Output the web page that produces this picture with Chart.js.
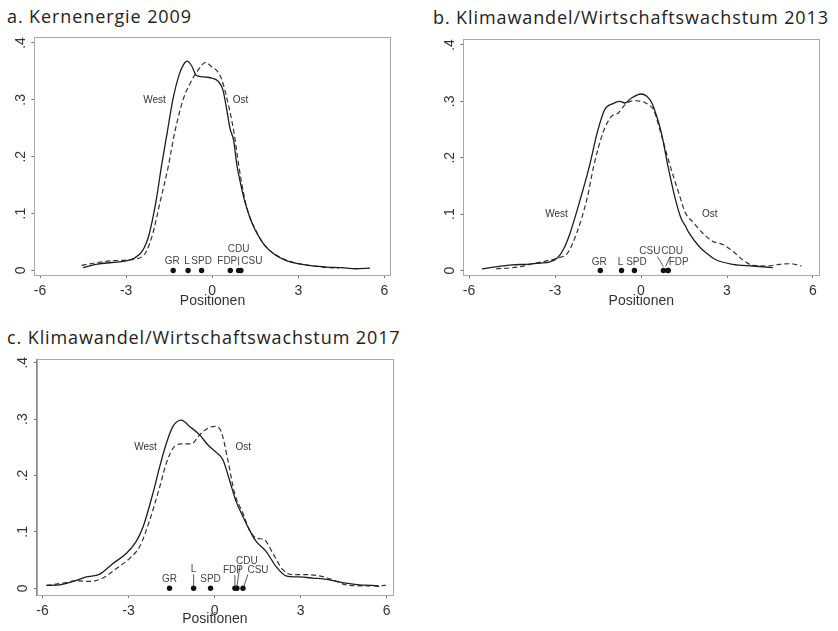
<!DOCTYPE html>
<html>
<head>
<meta charset="utf-8">
<script src="https://cdn.jsdelivr.net/npm/chart.js@4.4.0/dist/chart.umd.min.js"></script>
<style>
  body { margin: 0; background: #fff; width: 838px; height: 631px; position: relative; overflow: hidden; }
  .title { position: absolute; font-family: "Open Sans", sans-serif; font-size: 18px; line-height: 20px; letter-spacing: 0.9px; color: #222; white-space: nowrap; }
  canvas { position: absolute; }
</style>
</head>
<body>
<div class="title" style="left:7px; top:6px;">a. Kernenergie 2009</div>
<div class="title" style="left:433px; top:7px;">b. Klimawandel/Wirtschaftswachstum 2013</div>
<div class="title" style="left:7px; top:327px;">c. Klimawandel/Wirtschaftswachstum 2017</div>

<canvas id="chartA" width="400" height="280" style="left:0; top:30px;"></canvas>
<canvas id="chartB" width="400" height="280" style="left:430px; top:30px;"></canvas>
<canvas id="chartC" width="400" height="278" style="left:0; top:350px;"></canvas>

<script>
// axis ticks
const xTicks = [-6, -3, 0, 3, 6];
const yTicks = [0, 0.1, 0.2, 0.3, 0.4];

// a. Kernenergie 2009
const aWestX = [-4.5, -4.0, -3.5, -3.0, -2.7, -2.45, -2.3, -2.19, -1.95, -1.77, -1.57, -1.37, -1.16, -1.0, -0.87, -0.72, -0.55, -0.4, -0.2, 0.0, 0.2, 0.37, 0.5, 0.62, 0.75, 0.86, 1.0, 1.12, 1.3, 1.5, 1.8, 2.2, 2.6, 3.0, 3.5, 4.0, 4.5, 5.0, 5.5];
const aWestY = [0.005, 0.011, 0.014, 0.017, 0.022, 0.033, 0.048, 0.065, 0.124, 0.183, 0.242, 0.301, 0.343, 0.362, 0.368, 0.360, 0.343, 0.341, 0.340, 0.338, 0.333, 0.318, 0.285, 0.250, 0.228, 0.185, 0.150, 0.124, 0.095, 0.071, 0.046, 0.027, 0.017, 0.012, 0.008, 0.006, 0.005, 0.003, 0.004];
const aOstX = [-4.55, -4.0, -3.5, -3.0, -2.7, -2.45, -2.3, -2.07, -1.8, -1.53, -1.31, -1.01, -0.76, -0.47, -0.23, 0.0, 0.17, 0.33, 0.52, 0.76, 0.93, 1.14, 1.3, 1.51, 1.8, 2.2, 2.6, 3.0, 3.5, 4.0, 4.4];
const aOstY = [0.009, 0.014, 0.017, 0.018, 0.020, 0.024, 0.033, 0.065, 0.124, 0.183, 0.242, 0.301, 0.330, 0.354, 0.366, 0.357, 0.351, 0.336, 0.301, 0.242, 0.183, 0.124, 0.095, 0.071, 0.046, 0.028, 0.018, 0.012, 0.008, 0.005, 0.004];
const aParties = ['GR', 'L', 'SPD', 'FDP', 'CDU', 'CSU'];
const aPartyX = [-1.36, -0.84, -0.37, 0.63, 0.92, 1.0];

// b. Klimawandel/Wirtschaftswachstum 2013
const bWestX = [-5.55, -5.0, -4.5, -4.0, -3.5, -3.2, -2.92, -2.7, -2.47, -2.12, -1.80, -1.53, -1.27, -0.98, -0.74, -0.56, -0.33, 0.0, 0.2, 0.38, 0.55, 0.71, 0.94, 1.2, 1.4, 1.55, 1.67, 2.02, 2.3, 2.61, 3.2, 3.9, 4.6];
const bWestY = [0.003, 0.007, 0.010, 0.011, 0.013, 0.015, 0.022, 0.038, 0.067, 0.126, 0.185, 0.244, 0.285, 0.296, 0.300, 0.297, 0.306, 0.313, 0.309, 0.297, 0.273, 0.244, 0.185, 0.126, 0.092, 0.079, 0.067, 0.043, 0.030, 0.019, 0.011, 0.008, 0.005];
const bOstX = [-5.05, -4.3, -3.86, -3.3, -2.92, -2.56, -2.24, -1.89, -1.65, -1.33, -1.04, -0.8, -0.56, -0.27, 0.02, 0.26, 0.44, 0.69, 1.02, 1.32, 1.55, 1.79, 2.14, 2.49, 2.85, 3.2, 3.55, 3.91, 4.38, 4.85, 5.2, 5.6];
const bOstY = [0.003, 0.006, 0.011, 0.017, 0.022, 0.031, 0.067, 0.126, 0.185, 0.244, 0.273, 0.279, 0.294, 0.301, 0.300, 0.294, 0.285, 0.244, 0.185, 0.137, 0.102, 0.087, 0.067, 0.052, 0.046, 0.034, 0.019, 0.009, 0.008, 0.011, 0.012, 0.008];
const bParties = ['GR', 'L', 'SPD', 'CSU', 'CDU', 'FDP'];
const bPartyX = [-1.42, -0.68, -0.23, 0.78, 0.93, 0.95];

// c. Klimawandel/Wirtschaftswachstum 2017
const cWestX = [-5.86, -5.39, -4.93, -4.47, -4.0, -3.54, -3.07, -2.73, -2.49, -2.15, -1.91, -1.68, -1.45, -1.16, -0.87, -0.52, -0.23, 0.06, 0.29, 0.52, 0.75, 0.99, 1.22, 1.45, 1.80, 2.15, 2.49, 2.96, 3.42, 4.0, 4.58, 5.05, 5.51, 5.74];
const cWestY = [0.005, 0.006, 0.012, 0.020, 0.025, 0.044, 0.062, 0.083, 0.109, 0.168, 0.216, 0.257, 0.287, 0.298, 0.287, 0.272, 0.254, 0.241, 0.228, 0.192, 0.154, 0.127, 0.103, 0.083, 0.065, 0.038, 0.022, 0.020, 0.018, 0.015, 0.009, 0.006, 0.005, 0.003];
const cOstX = [-5.86, -5.28, -4.81, -4.35, -3.89, -3.42, -2.96, -2.61, -2.26, -1.91, -1.68, -1.45, -1.16, -0.81, -0.52, -0.23, 0.0, 0.23, 0.46, 0.70, 0.99, 1.22, 1.45, 1.74, 2.03, 2.38, 2.73, 3.19, 3.65, 4.12, 4.58, 5.28, 5.97];
const cOstY = [0.005, 0.009, 0.013, 0.012, 0.018, 0.035, 0.053, 0.074, 0.121, 0.180, 0.222, 0.248, 0.256, 0.256, 0.272, 0.284, 0.287, 0.278, 0.228, 0.168, 0.133, 0.103, 0.089, 0.086, 0.062, 0.033, 0.024, 0.024, 0.022, 0.015, 0.006, 0.004, 0.005];
const cParties = ['GR', 'L', 'SPD', 'FDP', 'CDU', 'CSU'];
const cPartyX = [-1.57, -0.73, -0.14, 0.71, 0.78, 0.99];

// label placement (pixel offsets from the party dot, optional leader line)
const aLabelPos = {
  GR: { dx: -1, dy: -9 }, L: { dx: -1, dy: -9 }, SPD: { dx: 0, dy: -9 }, FDP: { dx: -3, dy: -9 },
  CDU: { dx: 0, dy: -21, line: [0, -14, 0, -5] }, CSU: { dx: 11, dy: -9 }
};
const bLabelPos = {
  GR: { dx: -1, dy: -8 }, L: { dx: -1, dy: -8 }, SPD: { dx: 2, dy: -8 },
  CSU: { dx: -13.5, dy: -19, line: [-6, -14, 0, -4] }, CDU: { dx: 4.5, dy: -19, line: [2.5, -14, -2, -4] },
  FDP: { dx: 10.5, dy: -8 }
};
const cLabelPos = {
  GR: { dx: 0, dy: -9 }, L: { dx: 0, dy: -19, line: [0, -14, 0, -2] }, SPD: { dx: 0, dy: -9 },
  FDP: { dx: -2, dy: -18, line: [0, -13, 0, -2] }, CDU: { dx: 10, dy: -27, line: [3, -22, 0, -2] },
  CSU: { dx: 15, dy: -18, line: [5, -14, 1, -2] }
};

const axisFont = 'Liberation Sans, Arial, sans-serif';
Chart.defaults.font.family = axisFont;
Chart.defaults.color = '#333';

function points(xs, ys) {
  return xs.map((x, i) => ({ x: x, y: ys[i] }));
}

function yLabel(v) {
  return v === 0 ? '0' : '.' + Math.round(v * 10);
}

const stataLook = {
  id: 'stataLook',
  beforeDatasetsDraw(chart) {
    const a = chart.chartArea;
    const ctx = chart.ctx;
    ctx.save();
    ctx.strokeStyle = '#a8a8a8';
    ctx.lineWidth = 1;
    ctx.strokeRect(Math.round(a.left) + 0.5, Math.round(a.top) + 0.5, Math.round(a.width), Math.round(a.height));
    ctx.restore();
  },
  afterDraw(chart, args, opts) {
    const ctx = chart.ctx;
    const xs = chart.scales.x, ys = chart.scales.y;
    ctx.save();
    // rotated y tick labels
    ctx.fillStyle = '#333';
    ctx.font = '14px ' + axisFont;
    ctx.textAlign = 'center';
    ctx.textBaseline = 'middle';
    yTicks.forEach(v => {
      ctx.save();
      ctx.translate(ys.left + ys.width - 13.5, ys.getPixelForValue(v));
      ctx.rotate(-Math.PI / 2);
      ctx.fillText(yLabel(v), 0, 0);
      ctx.restore();
    });
    // party labels
    ctx.font = '10px ' + axisFont;
    ctx.fillStyle = '#444';
    ctx.strokeStyle = '#444';
    ctx.lineWidth = 0.9;
    const y0 = ys.getPixelForValue(0);
    opts.parties.forEach((name, i) => {
      const px = xs.getPixelForValue(opts.partyX[i]);
      const pos = opts.labelPos[name];
      ctx.fillText(name, px + pos.dx, y0 + pos.dy);
      if (pos.line) {
        ctx.beginPath();
        ctx.moveTo(px + pos.line[0], y0 + pos.line[1]);
        ctx.lineTo(px + pos.line[2], y0 + pos.line[3]);
        ctx.stroke();
      }
    });
    // curve names
    ctx.fillStyle = '#333';
    opts.tags.forEach(t => {
      ctx.fillText(t.text, xs.getPixelForValue(t.x), ys.getPixelForValue(t.y));
    });
    ctx.restore();
  }
};

function densityChart(id, cfg) {
  new Chart(document.getElementById(id), {
    type: 'scatter',
    data: {
      datasets: [
        {
          label: 'West', data: points(cfg.westX, cfg.westY), showLine: true,
          borderColor: '#1c1c1c', borderWidth: 1.3, pointRadius: 0, cubicInterpolationMode: 'monotone'
        },
        {
          label: 'Ost', data: points(cfg.ostX, cfg.ostY), showLine: true,
          borderColor: '#333', borderWidth: 1.2, borderDash: [5, 3], pointRadius: 0, cubicInterpolationMode: 'monotone'
        },
        {
          label: 'Parteien', data: cfg.partyX.map(x => ({ x: x, y: 0 })), showLine: false,
          pointRadius: 2.7, pointBackgroundColor: '#111', pointBorderWidth: 0
        }
      ]
    },
    options: {
      responsive: false,
      animation: false,
      events: [],
      layout: { padding: { top: cfg.padTop, right: cfg.padRight, left: 0, bottom: 0 } },
      plugins: {
        legend: { display: false },
        tooltip: { enabled: false },
        stataLook: { parties: cfg.parties, partyX: cfg.partyX, labelPos: cfg.labelPos, tags: cfg.tags }
      },
      scales: {
        x: {
          type: 'linear', min: -6.2, max: 6.22,
          afterBuildTicks: s => { s.ticks = xTicks.map(v => ({ value: v })); },
          afterFit: s => { s.height = cfg.xHeight; },
          grid: { drawOnChartArea: false, drawTicks: true, tickLength: 3, color: '#777' },
          border: { display: true, color: '#8a8a8a' },
          ticks: { font: { size: 14 }, color: '#333', padding: 5, maxRotation: 0, autoSkip: false },
          title: { display: true, text: 'Positionen', font: { size: 14 }, color: '#333', padding: 0 }
        },
        y: {
          type: 'linear', min: cfg.yMin, max: cfg.yMax,
          afterBuildTicks: s => { s.ticks = yTicks.map(v => ({ value: v })); },
          afterFit: s => { s.width = cfg.yWidth; },
          grid: { drawOnChartArea: false, drawTicks: true, tickLength: 3, color: '#777' },
          border: { display: true, color: '#8a8a8a' },
          ticks: { display: false }
        }
      }
    },
    plugins: [stataLook]
  });
}

densityChart('chartA', {
  westX: aWestX, westY: aWestY, ostX: aOstX, ostY: aOstY,
  parties: aParties, partyX: aPartyX, labelPos: aLabelPos,
  tags: [{ text: 'West', x: -2.01, y: 0.299 }, { text: 'Ost', x: 0.99, y: 0.299 }],
  padTop: 7.3, padRight: 9.3, yWidth: 34.3, xHeight: 35, yMin: -0.008, yMax: 0.41
});
densityChart('chartB', {
  westX: bWestX, westY: bWestY, ostX: bOstX, ostY: bOstY,
  parties: bParties, partyX: bPartyX, labelPos: bLabelPos,
  tags: [{ text: 'West', x: -2.95, y: 0.099 }, { text: 'Ost', x: 2.4, y: 0.099 }],
  padTop: 9.3, padRight: 10.7, yWidth: 33.3, xHeight: 35, yMin: -0.008, yMax: 0.41
});
densityChart('chartC', {
  westX: cWestX, westY: cWestY, ostX: cOstX, ostY: cOstY,
  parties: cParties, partyX: cPartyX, labelPos: cLabelPos,
  tags: [{ text: 'West', x: -2.41, y: 0.25 }, { text: 'Ost', x: 1.0, y: 0.25 }],
  padTop: 9.3, padRight: 7, yWidth: 36.7, xHeight: 33, yMin: -0.012, yMax: 0.406
});
</script>
</body>
</html>
